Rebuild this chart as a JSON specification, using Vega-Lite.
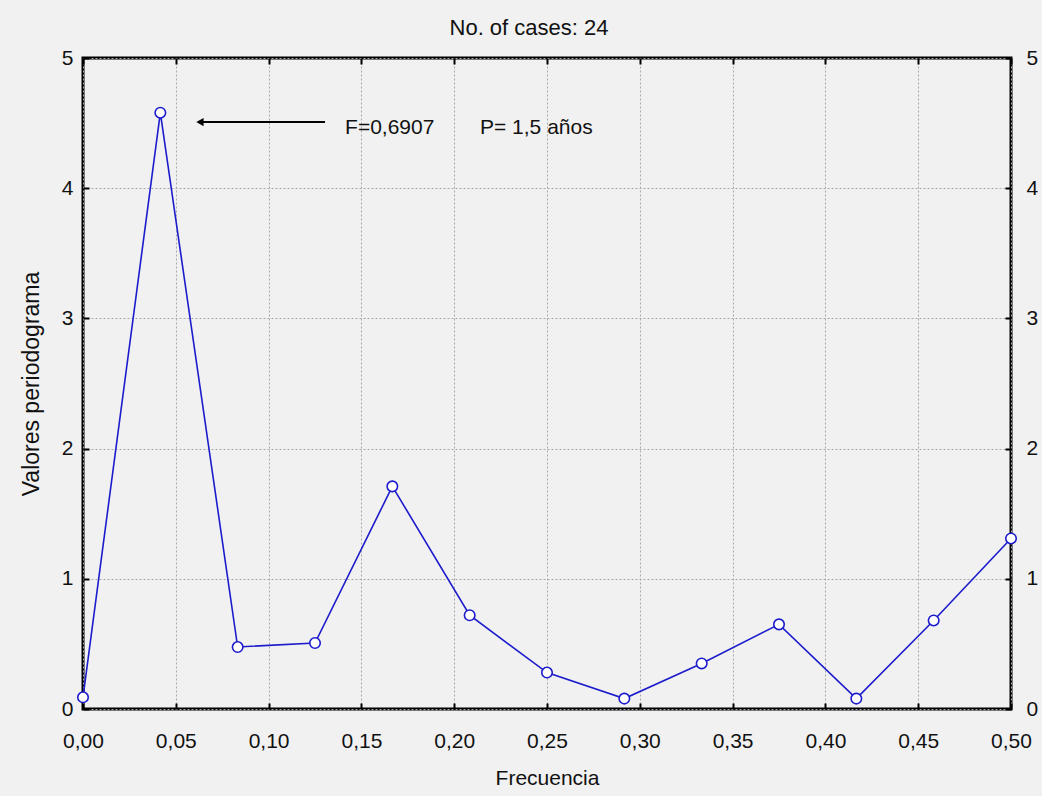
{
  "$schema": "https://vega.github.io/schema/vega-lite/v6.json",
  "width": 928,
  "height": 651,
  "autosize": {"type": "none"},
  "padding": {"left": 83, "top": 58, "right": 31, "bottom": 87},
  "background": "#f1f1f1",
  "config": {
    "font": "Liberation Sans",
    "view": {"stroke": "#000000", "strokeWidth": 3, "fill": "#f1f1f1"},
    "axis": {
      "domain": false,
      "labelFont": "Liberation Sans",
      "titleFont": "Liberation Sans",
      "labelFontSize": 21,
      "titleFontSize": 21,
      "labelColor": "#111111",
      "titleColor": "#111111",
      "titleFontWeight": "normal",
      "labelFlush": false,
      "tickColor": "#000000",
      "tickWidth": 2,
      "tickSize": -6,
      "gridColor": "#a8a8a8",
      "gridDash": [2, 2],
      "gridWidth": 1
    }
  },
  "title": {
    "text": "No. of cases: 24",
    "fontSize": 22,
    "fontWeight": "normal",
    "font": "Liberation Sans",
    "color": "#111111",
    "anchor": "middle",
    "offset": 7,
    "dx": -18
  },
  "datasets": {
    "spec": [
      {"freq": 0.0, "value": 0.09},
      {"freq": 0.041667, "value": 4.58},
      {"freq": 0.083333, "value": 0.476},
      {"freq": 0.125, "value": 0.507},
      {"freq": 0.166667, "value": 1.71},
      {"freq": 0.208333, "value": 0.72},
      {"freq": 0.25, "value": 0.28},
      {"freq": 0.291667, "value": 0.08},
      {"freq": 0.333333, "value": 0.35},
      {"freq": 0.375, "value": 0.65},
      {"freq": 0.416667, "value": 0.08},
      {"freq": 0.458333, "value": 0.68},
      {"freq": 0.5, "value": 1.31}
    ],
    "arrow": [{"x": 0.063, "x2": 0.1304, "y": 4.508}],
    "notes": [
      {"x": 0.1412, "y": 4.46, "label": "F=0,6907"},
      {"x": 0.2139, "y": 4.46, "label": "P= 1,5 años"}
    ]
  },
  "resolve": {"axis": {"x": "independent", "y": "independent"}},
  "layer": [
    {
      "data": {"name": "spec"},
      "mark": {"type": "line", "color": "#1c1ccc", "strokeWidth": 1.6},
      "encoding": {
        "x": {
          "field": "freq", "type": "quantitative",
          "scale": {"domain": [0, 0.5], "nice": false, "zero": false},
          "axis": {
            "orient": "bottom", "title": "Frecuencia",
            "values": [0, 0.05, 0.1, 0.15, 0.2, 0.25, 0.3, 0.35, 0.4, 0.45, 0.5],
            "labelExpr": "replace(format(datum.value, '.2f'), '.', ',')",
            "labelPadding": 27, "titlePadding": 16, "grid": true
          }
        },
        "y": {
          "field": "value", "type": "quantitative",
          "scale": {"domain": [0, 5], "nice": false},
          "axis": {
            "orient": "left", "title": "Valores periodograma", "titleFontSize": 23,
            "values": [0, 1, 2, 3, 4, 5],
            "labelPadding": 16, "titlePadding": 18, "grid": true
          }
        }
      }
    },
    {
      "data": {"name": "spec"},
      "mark": {"type": "point", "filled": true, "fill": "#ffffff", "stroke": "#1c1ccc", "strokeWidth": 1.6, "size": 110, "opacity": 1},
      "encoding": {
        "x": {
          "field": "freq", "type": "quantitative",
          "axis": {
            "orient": "top", "title": null, "labels": false, "grid": false,
            "values": [0, 0.05, 0.1, 0.15, 0.2, 0.25, 0.3, 0.35, 0.4, 0.45, 0.5]
          }
        },
        "y": {
          "field": "value", "type": "quantitative",
          "axis": {
            "orient": "right", "title": null, "grid": false,
            "values": [0, 1, 2, 3, 4, 5],
            "labelPadding": 21
          }
        }
      }
    },
    {
      "data": {"name": "arrow"},
      "mark": {"type": "rule", "color": "#000000", "strokeWidth": 2},
      "encoding": {
        "x": {"field": "x", "type": "quantitative", "axis": null},
        "x2": {"field": "x2"},
        "y": {"field": "y", "type": "quantitative", "axis": null}
      }
    },
    {
      "data": {"name": "arrow"},
      "mark": {"type": "point", "shape": "triangle-left", "filled": true, "color": "#000000", "size": 70, "opacity": 1},
      "encoding": {
        "x": {"field": "x", "type": "quantitative", "axis": null},
        "y": {"field": "y", "type": "quantitative", "axis": null}
      }
    },
    {
      "data": {"name": "notes"},
      "mark": {"type": "text", "align": "left", "baseline": "middle", "fontSize": 21, "color": "#111111", "font": "Liberation Sans"},
      "encoding": {
        "x": {"field": "x", "type": "quantitative", "axis": null},
        "y": {"field": "y", "type": "quantitative", "axis": null},
        "text": {"field": "label"}
      }
    }
  ]
}
